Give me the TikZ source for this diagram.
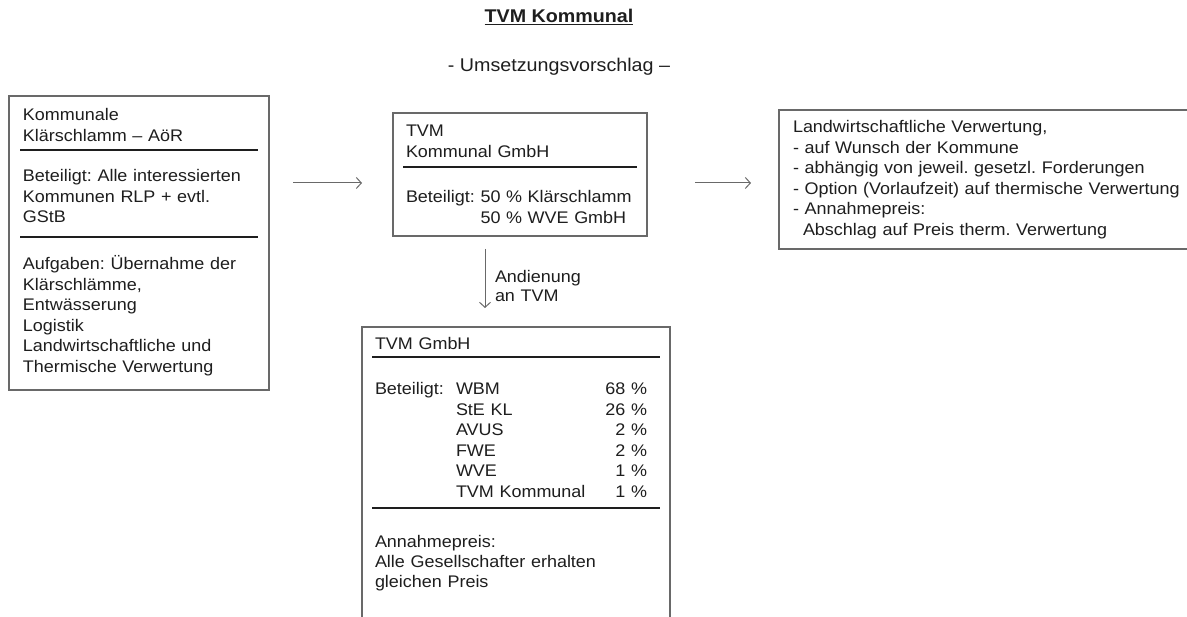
\documentclass[tikz,border=0pt]{standalone}
\usepackage{fontspec}
\setmainfont{Liberation Sans}[FakeStretch=1.07]
\usetikzlibrary{positioning}
\usetikzlibrary{arrows.meta}
\definecolor{tinte}{RGB}{30,30,30}
\definecolor{rahmen}{RGB}{105,105,105}
\tikzset{
	every node/.style={inner sep=0pt,outer sep=0pt,text=tinte},
	kasten/.style={draw=rahmen,line width=1.3pt,anchor=north west},
	txt/.style={anchor=base west,align=left,text width=#1,font=\fontsize{16.8}{20.5}\selectfont},
	txt/.default=250pt,
	trenner/.style={draw=tinte,line width=1.8pt},
	pfeil/.style={-{Straight Barb[length=5pt,width=11pt,line width=1pt]},draw=rahmen,line width=1pt},
}
\frenchspacing

\begin{document}
\begin{tikzpicture}[x=1pt,y=1pt]
			\clip (0,0) rectangle (1187,617);
			\fill [white] (0,0) rectangle (1187,617);
			
			% title.....................
			\node [anchor=base,font=\fontsize{18.4}{22}\selectfont\bfseries] (titel) at (559,594) {\underline{TVM Kommunal}};
			\node [anchor=base,font=\fontsize{18.4}{22}\selectfont] (untertitel) at (559,545) {- Umsetzungsvorschlag –};
			
			% Klaerschlamm AoeR box.....................
			\node [kasten,minimum width=260pt,minimum height=294pt] (aoer) at (9,521) {};
			\node [txt] (aoerkopf) at (23,496) {Kommunale\\Klärschlamm – AöR};
			\draw [trenner] (20,467) -- (258,467);
			\node [txt] (aoerbet) at (23,435) {Beteiligt: Alle interessierten\\Kommunen RLP + evtl.\\GStB};
			\draw [trenner] (20,380) -- (258,380);
			\node [txt] (aoerauf) at (23,347) {Aufgaben: Übernahme der\\Klärschlämme,\\Entwässerung\\Logistik\\Landwirtschaftliche und\\Thermische Verwertung};
			
			% TVM Kommunal box.....................
			\node [kasten,minimum width=254pt,minimum height=123pt] (tvmk) at (393,504) {};
			\node [txt=230pt] (tvmkkopf) at (406,480) {TVM\\Kommunal GmbH};
			\draw [trenner] (403,450) -- (637,450);
			\node [txt=240pt] (tvmkbet) at (406,414) {Beteiligt: 50 \% Klärschlamm\\\hphantom{Beteiligt: }50 \% WVE GmbH};
			
			% Verwertung box.....................
			\node [kasten,overlay,minimum width=450pt,minimum height=139pt] (verw) at (779,507) {};
			\node [txt=400pt] (verwtext) at (793,484) {Landwirtschaftliche Verwertung,\\- auf Wunsch der Kommune\\- abhängig von jeweil. gesetzl. Forderungen\\- Option (Vorlaufzeit) auf thermische Verwertung\\- Annahmepreis:\\\hspace*{10pt}Abschlag auf Preis therm. Verwertung};
			
			% TVM GmbH box.....................
			\node [kasten,overlay,minimum width=308pt,minimum height=340pt] (tvmg) at (362,290) {};
			\node [txt=280pt] (tvmgkopf) at (375,267) {TVM GmbH};
			\draw [trenner] (372,260) -- (660,260);
			\node [txt=80pt] (tvmgbet) at (375,222) {Beteiligt:};
			\node [txt=170pt] (gesellschafter) at (456,222) {WBM\\StE KL\\AVUS\\FWE\\WVE\\TVM Kommunal};
			\node [txt=60pt,align=right,anchor=base east] (anteile) at (647,222) {68 \%\\26 \%\\2 \%\\2 \%\\1 \%\\1 \%};
			\draw [trenner] (372,109) -- (660,109);
			\node [txt=280pt,font=\fontsize{16.8}{19.8}\selectfont] (preis) at (375,69) {Annahmepreis:\\Alle Gesellschafter erhalten\\gleichen Preis};
			
			% arrows.....................
			\coordinate (p1a) at (293,434);
			\coordinate (p1b) at (362,434);
			\coordinate (p2a) at (695,434);
			\coordinate (p2b) at (751,434);
			\coordinate (p3a) at (485,368);
			\coordinate (p3b) at (485,309);
			\draw [pfeil] (p1a) -- (p1b);
			\draw [pfeil] (p2a) -- (p2b);
			\draw [pfeil] (p3a) -- (p3b);
			\node [txt=120pt,font=\fontsize{16.8}{19}\selectfont] (andienung) at (495,334) {Andienung\\an TVM};
		\end{tikzpicture}
\end{document}
